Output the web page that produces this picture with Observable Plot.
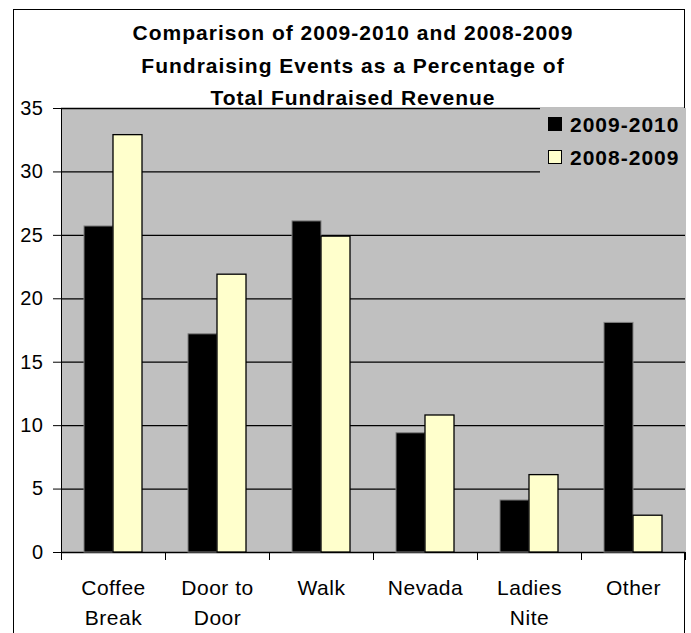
<!DOCTYPE html>
<html>
<head>
<meta charset="utf-8">
<script src="https://cdn.jsdelivr.net/npm/d3@7"></script>
<script src="https://cdn.jsdelivr.net/npm/@observablehq/plot@0.6"></script>
<style>
  html, body { margin: 0; padding: 0; background: #fff; }
  #wrap { position: relative; width: 691px; height: 633px; overflow: hidden; font-family: "Liberation Sans", Arial, sans-serif; }
  #frame { position: absolute; left: 13px; top: 9px; width: 672px; height: 700px; border: 1px solid #000; box-sizing: border-box; z-index: 0; }
  #chart { position: absolute; left: 0; top: 0; z-index: 1; }
  #title { position: absolute; left: 13px; width: 680px; top: 17px; text-align: center; font-weight: bold; font-size: 21px; letter-spacing: 1px; line-height: 32.5px; z-index: 3; color: #000; }
  #legend { position: absolute; left: 540px; top: 108px; width: 146px; height: 97px; background: #c0c0c0; z-index: 2; }
  .lg { position: absolute; left: 8px; font-weight: bold; font-size: 21px; letter-spacing: 1px; line-height: 21px; white-space: nowrap; }
  .sw { display: inline-block; width: 14px; height: 14px; box-sizing: border-box; border: 1px solid #000; margin-right: 8px; vertical-align: 1px; }
</style>
</head>
<body>
<div id="wrap">
  <div id="frame"></div>
  <div id="chart"></div>
  <div id="title">Comparison of 2009-2010 and 2008-2009<br>Fundraising Events as a Percentage of<br>Total Fundraised Revenue</div>
  <div id="legend"></div>
</div>
<script>
const categories = ["Coffee Break", "Door to Door", "Walk", "Nevada", "Ladies Nite", "Other"];
const categoryLabels = ["Coffee\nBreak", "Door to\nDoor", "Walk", "Nevada", "Ladies\nNite", "Other"];
const series = ["2009-2010", "2008-2009"];
const values2009_2010 = [25.7, 17.2, 26.1, 9.4, 4.1, 18.1];
const values2008_2009 = [32.9, 21.9, 24.9, 10.8, 6.1, 2.9];
const yTicks = [0, 5, 10, 15, 20, 25, 30, 35];
const seriesColors = ["#000000", "#ffffcc"];

const rowsA = categories.map((c, i) => ({category: c, series: series[0], value: values2009_2010[i]}));
const rowsB = categories.map((c, i) => ({category: c, series: series[1], value: values2008_2009[i]}));

const W = 691, H = 633, mL = 61, mR = 6, mT = 108, mB = 81;
const halfStep = (W - mL - mR) / categories.length / 2;

const chart = Plot.plot({
  width: W,
  height: H,
  marginLeft: mL,
  marginRight: mR,
  marginTop: mT,
  marginBottom: mB,
  style: {background: "transparent", fontFamily: "Liberation Sans, Arial, sans-serif", fontSize: "20px", letterSpacing: "0.5px", color: "#000"},
  fx: {domain: categories, padding: 0, label: null},
  x: {domain: series, paddingInner: 0, paddingOuter: 0.735, axis: null},
  y: {domain: [0, 35], ticks: yTicks, tickSize: 8, tickPadding: 10, line: true, label: null},
  marks: [
    Plot.frame({fill: "#c0c0c0", stroke: null, shapeRendering: "crispEdges"}),
    Plot.ruleY(yTicks, {stroke: "#000", strokeWidth: 1.3}),
    Plot.barY(rowsA, {fx: "category", x: "series", y: "value", fill: seriesColors[0], stroke: "#808080", strokeWidth: 1}),
    Plot.barY(rowsB, {fx: "category", x: "series", y: "value", fill: seriesColors[1], stroke: "#000", strokeWidth: 1.3}),
    Plot.axisFx({anchor: "bottom", tickSize: 0, tickPadding: 21, fontSize: 21, lineHeight: 1.43,
      tickFormat: d => categoryLabels[categories.indexOf(d)], label: null}),
    Plot.axisFx({anchor: "bottom", tickSize: 8, tickFormat: () => "", dx: -halfStep, label: null}),
    Plot.axisFx({anchor: "bottom", ticks: [categories[categories.length - 1]], tickSize: 8, tickFormat: () => "", dx: halfStep, label: null})
  ]
});
document.getElementById("chart").appendChild(chart);

const legend = document.getElementById("legend");
series.forEach((s, i) => {
  const row = document.createElement("div");
  row.className = "lg";
  row.style.top = (6 + i * 33) + "px";
  row.innerHTML = `<span class="sw" style="background:${seriesColors[i]}"></span>${s}`;
  legend.appendChild(row);
});
</script>
</body>
</html>
